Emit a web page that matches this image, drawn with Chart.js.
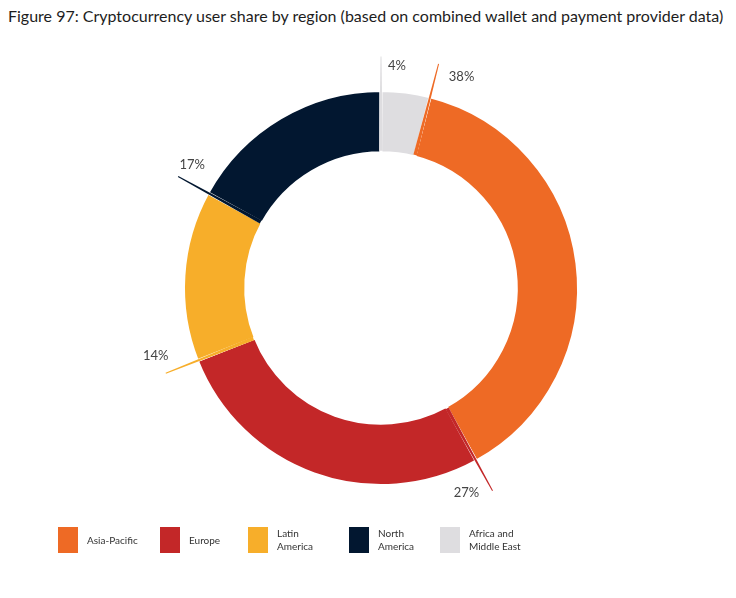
<!DOCTYPE html>
<html>
<head>
<meta charset="utf-8">
<script src="https://cdn.jsdelivr.net/npm/chart.js@4"></script>
<style>
  body { margin: 0; background: #fff; font-family: Lato, "Open Sans", sans-serif; }
  #wrap { position: relative; width: 736px; height: 598px; }
  #titulo { position: absolute; left: 8px; top: 6px; font-size: 16px; color: #1d1d1d; white-space: nowrap; }
  #grafico { position: absolute; left: 0; top: 0; }
  .leg { position: absolute; top: 527px; height: 26px; display: flex; align-items: center; }
  .leg .caixa { width: 20px; height: 26px; margin-right: 9px; }
  .leg .txt { font-size: 10px; line-height: 13px; color: #333; }
</style>
</head>
<body>
<div id="wrap">
  <div id="titulo">Figure 97: Cryptocurrency user share by region (based on combined wallet and payment provider data)</div>
  <canvas id="grafico" width="736" height="598"></canvas>
  <div id="legenda"></div>
</div>
<script>
var regioes = ["Asia-Pacific", "Europe", "Latin America", "North America", "Africa and Middle East"];
var regioesLegenda = [["Asia-Pacific"], ["Europe"], ["Latin", "America"], ["North", "America"], ["Africa and", "Middle East"]];
var percentuais = [38, 27, 14, 17, 4];
var cores = ["#ee6a25", "#c32728", "#f7ae2a", "#021730", "#dedde0"];

// posicao dos rotulos em relacao a ponta da linha
var deslocRotulo = [[23, 13], [-26, 2], [-10, -17], [14, -12], [16, 9]];
var posLegenda = [58, 160, 248, 349, 440];

var legenda = document.getElementById('legenda');
regioesLegenda.forEach(function (linhas, i) {
    var item = document.createElement('div');
    item.className = 'leg';
    item.style.left = posLegenda[i] + 'px';
    item.innerHTML = '<div class="caixa" style="background:' + cores[i] + '"></div>' +
        '<div class="txt">' + linhas.join('<br>') + '</div>';
    legenda.appendChild(item);
});

var linhasRotulos = {
    id: 'linhasRotulos',
    afterDatasetsDraw: function (chart) {
        var ctx = chart.ctx;
        var meta = chart.getDatasetMeta(0);
        meta.data.forEach(function (arco, i) {
            var p = arco.getProps(['x', 'y', 'startAngle', 'innerRadius', 'outerRadius']);
            var a = p.startAngle;
            var r0 = p.innerRadius + 2;
            var r1 = p.outerRadius + 34;
            var cos = Math.cos(a), sin = Math.sin(a);
            var nx = -sin, ny = cos;
            var w0 = 1.8, w1 = 0.5;
            ctx.save();
            ctx.fillStyle = cores[i];
            ctx.beginPath();
            ctx.moveTo(p.x + cos * r0 + nx * w0, p.y + sin * r0 + ny * w0);
            ctx.lineTo(p.x + cos * r1 + nx * w1, p.y + sin * r1 + ny * w1);
            ctx.lineTo(p.x + cos * r1 - nx * w1, p.y + sin * r1 - ny * w1);
            ctx.lineTo(p.x + cos * r0 - nx * w0, p.y + sin * r0 - ny * w0);
            ctx.closePath();
            ctx.fill();
            var tx = p.x + cos * r1 + deslocRotulo[i][0];
            var ty = p.y + sin * r1 + deslocRotulo[i][1];
            ctx.fillStyle = '#444';
            ctx.font = '13px Lato';
            ctx.textAlign = 'center';
            ctx.textBaseline = 'middle';
            ctx.fillText(percentuais[i] + '%', tx, ty);
            ctx.restore();
        });
    }
};

new Chart(document.getElementById('grafico'), {
    type: 'doughnut',
    data: {
        labels: regioes,
        datasets: [{
            data: percentuais,
            backgroundColor: cores,
            borderColor: '#ffffff',
            borderWidth: 3
        }]
    },
    options: {
        responsive: false,
        animation: false,
        cutout: '68.5%',
        rotation: 14.4,
        layout: { padding: { left: 182, right: 156, top: 89, bottom: 111 } },
        plugins: {
            legend: { display: false },
            tooltip: { enabled: false }
        }
    },
    plugins: [linhasRotulos]
});
</script>
</body>
</html>
